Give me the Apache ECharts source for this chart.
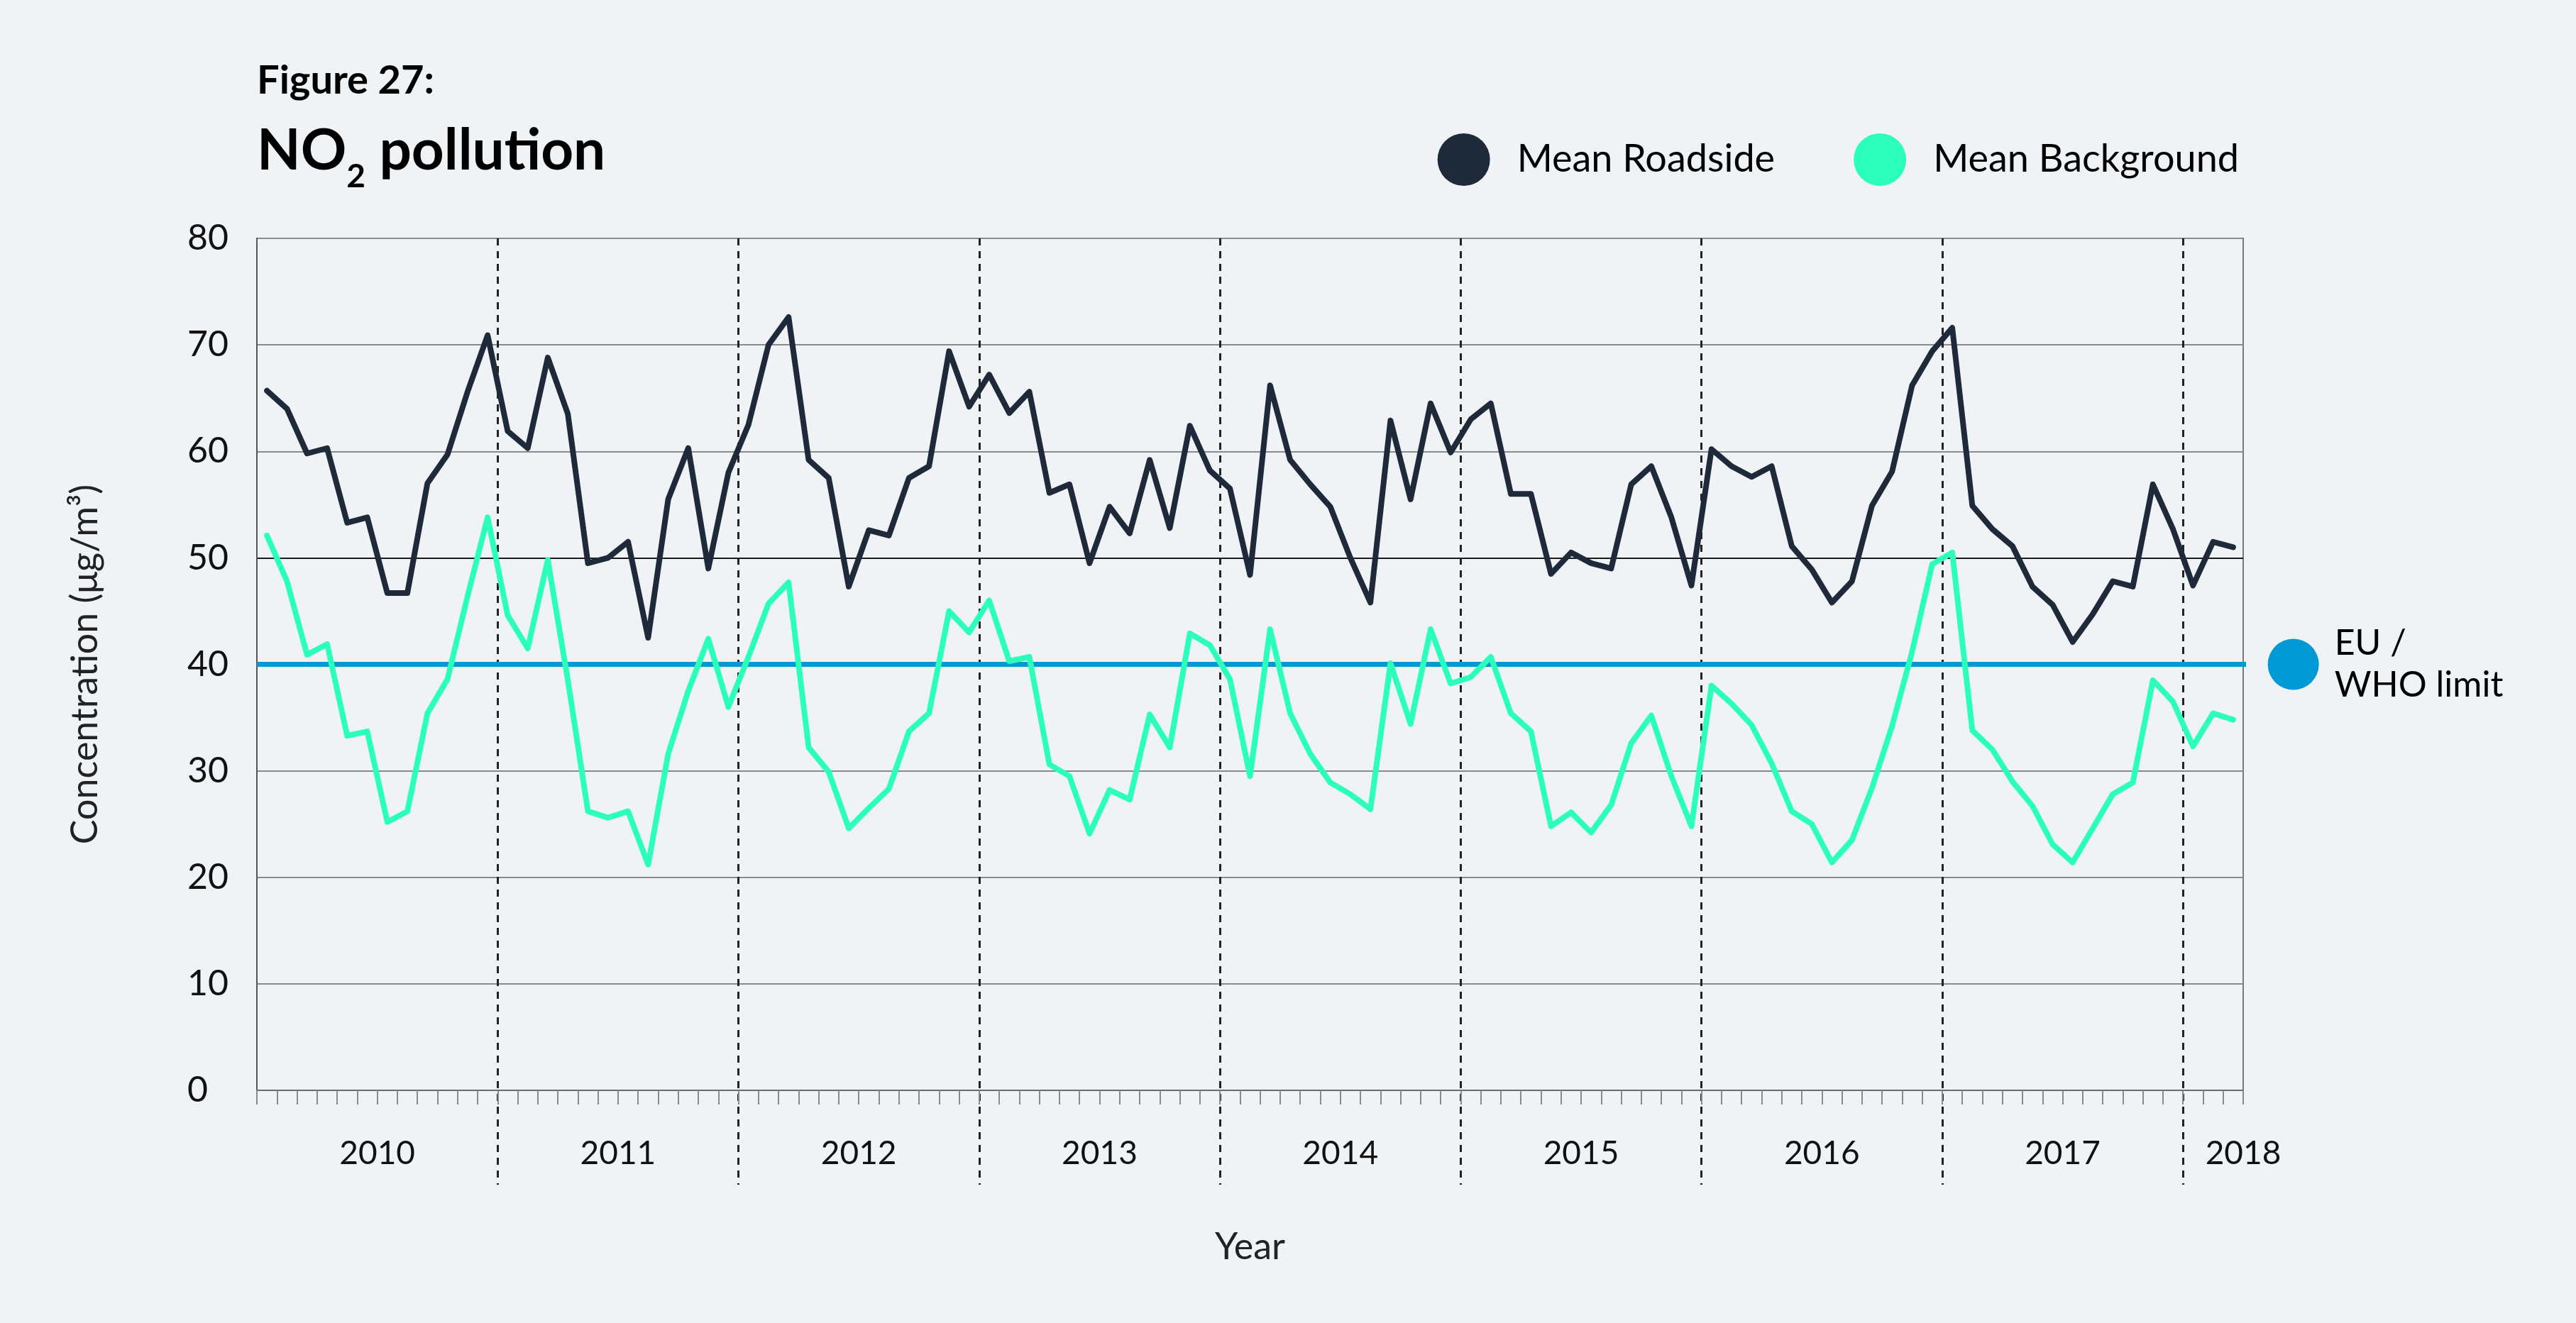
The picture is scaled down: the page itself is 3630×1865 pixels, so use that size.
<!DOCTYPE html>
<html>
<head>
<meta charset="utf-8">
<script src="https://cdn.jsdelivr.net/npm/echarts@6/dist/echarts.min.js"></script>
<style>
html,body{margin:0;padding:0;background:#eff3f6;}
#chart{width:3630px;height:1865px;}
</style>
</head>
<body>
<div id="chart"></div>
<script>
// ---------- data ----------
const years = ['2010','2011','2012','2013','2014','2015','2016','2017','2018'];
const roadside = [
  65.7, 64.0, 59.8, 60.3, 53.3, 53.8, 46.7, 46.7, 57.0, 59.7, 65.6, 70.9,
  61.9, 60.3, 68.8, 63.5, 49.5, 50.0, 51.5, 42.5, 55.5, 60.3, 49.0, 58.0,
  62.5, 70.0, 72.6, 59.2, 57.5, 47.3, 52.6, 52.1, 57.5, 58.6, 69.4, 64.2,
  67.2, 63.6, 65.6, 56.1, 56.9, 49.5, 54.8, 52.3, 59.2, 52.8, 62.4, 58.2,
  56.5, 48.4, 66.2, 59.2, 56.9, 54.8, 50.0, 45.8, 62.9, 55.5, 64.5, 59.9,
  63.0, 64.5, 56.0, 56.0, 48.5, 50.5, 49.5, 49.0, 56.9, 58.6, 53.8, 47.4,
  60.2, 58.6, 57.6, 58.6, 51.1, 48.9, 45.8, 47.8, 54.9, 58.1, 66.2, 69.4,
  71.6, 54.9, 52.7, 51.1, 47.3, 45.6, 42.1, 44.7, 47.8, 47.3, 56.9, 52.7,
  47.4, 51.5, 51.0
];
const background = [
  52.1, 47.8, 40.9, 41.9, 33.3, 33.7, 25.2, 26.2, 35.4, 38.6, 46.4, 53.8,
  44.6, 41.5, 49.8, 38.5, 26.2, 25.6, 26.2, 21.2, 31.6, 37.5, 42.4, 36.0,
  40.7, 45.7, 47.7, 32.2, 29.9, 24.6, 26.5, 28.3, 33.7, 35.4, 45.0, 43.0,
  46.0, 40.3, 40.7, 30.6, 29.5, 24.1, 28.2, 27.3, 35.3, 32.2, 42.9, 41.8,
  38.6, 29.5, 43.3, 35.4, 31.6, 28.9, 27.8, 26.4, 40.1, 34.4, 43.3, 38.2,
  38.8, 40.7, 35.4, 33.7, 24.8, 26.1, 24.2, 26.8, 32.6, 35.2, 29.5, 24.8,
  38.0, 36.3, 34.3, 30.7, 26.2, 25.0, 21.4, 23.5, 28.4, 34.2, 41.2, 49.4,
  50.5, 33.8, 32.0, 29.0, 26.7, 23.1, 21.4, 24.6, 27.8, 28.9, 38.5, 36.5,
  32.3, 35.4, 34.8
];
const limitValue = 40;
const seriesNames = ['Mean Roadside', 'Mean Background'];
const limitLabel = 'EU /\nWHO limit';
const yAxisName = 'Concentration (\u03bcg/m\u00b3)';
const xAxisName = 'Year';

// month categories derived from years
const months = roadside.map((_, i) => years[Math.floor(i / 12)] + '-' + String(i % 12 + 1).padStart(2, '0'));
const N = months.length;

// ---------- layout / style ----------
const FONT = 'Lato';
const C_DARK = '#1e2a3a';
const C_GREEN = '#2cfebb';
const C_BLUE = '#0099d5';
const GRID = {left: 362, right: 469, top: 336, bottom: 328};
const limitEnd = N + 2.5; // where the limit marker sits, in month units

const chart = echarts.init(document.getElementById('chart'), null, {renderer: 'canvas'});
chart.setOption({
  backgroundColor: '#eff3f6',
  animation: false,
  title: [
    {
      text: 'Figure 27:', left: 362, top: 86, padding: 0,
      textStyle: {fontFamily: FONT, fontWeight: 'bold', fontSize: 56, color: '#000'}
    },
    {
      text: '{a|NO}{s|2}{a| pollution}', left: 362, top: 154, padding: 0,
      textStyle: {
        rich: {
          a: {fontFamily: FONT, fontWeight: 'bold', fontSize: 80, lineHeight: 118, color: '#000'},
          s: {fontFamily: FONT, fontWeight: 'bold', fontSize: 46, lineHeight: 46, verticalAlign: 'bottom', color: '#000'}
        }
      }
    }
  ],
  legend: {
    data: seriesNames,
    right: 470, top: 183,
    icon: 'circle', itemWidth: 74, itemHeight: 74, itemGap: 111,
    itemStyle: {borderWidth: 0},
    textStyle: {fontFamily: FONT, fontSize: 54, color: '#000', padding: [0, 0, 0, 33]}
  },
  grid: [
    Object.assign({show: true, borderColor: '#7a7a7a', borderWidth: 2, backgroundColor: 'transparent'}, GRID),
    {left: GRID.left, right: GRID.right, top: GRID.top, bottom: 195}
  ],
  xAxis: [
    {
      type: 'category', gridIndex: 0, data: months, boundaryGap: true, position: 'bottom',
      axisLine: {show: true, lineStyle: {color: '#6a6a6a', width: 2}},
      axisTick: {show: true, interval: 0, length: 20, lineStyle: {color: '#8a8a8a', width: 2}},
      axisLabel: {show: false},
      splitLine: {show: false}
    },
    {
      type: 'value', gridIndex: 1, min: 0, max: N, interval: 12, position: 'bottom',
      axisLine: {show: false}, axisTick: {show: false}, axisLabel: {show: false},
      splitLine: {show: true, showMinLine: false, showMaxLine: false,
        lineStyle: {color: '#222', width: 3, type: [10, 8]}}
    },
    {
      type: 'value', gridIndex: 0, min: 0, max: N, interval: 6, position: 'bottom',
      axisLine: {show: false}, axisTick: {show: false}, splitLine: {show: false},
      axisLabel: {
        show: true, margin: 66, showMaxLabel: true, showMinLabel: false,
        fontFamily: FONT, fontSize: 46, color: '#111',
        formatter: function (v) {
          if (v === N) return years[years.length - 1];
          if (v % 12 === 6) return years[Math.floor(v / 12)];
          return '';
        }
      },
      name: xAxisName, nameLocation: 'middle', nameGap: 195,
      nameTextStyle: {fontFamily: FONT, fontSize: 52, color: '#222'}
    }
  ],
  yAxis: [
    {
      type: 'value', gridIndex: 0, min: 0, max: 80, interval: 10,
      axisLine: {show: true, lineStyle: {color: '#555', width: 2}},
      axisTick: {show: false},
      axisLabel: {fontFamily: FONT, fontSize: 50, color: '#111', margin: 98, align: 'left'},
      splitLine: {show: true, lineStyle: {
        color: ['#8a8a8a','#8a8a8a','#8a8a8a','#8a8a8a','#8a8a8a','#1a1a1a','#8a8a8a','#8a8a8a','#8a8a8a'],
        width: 2}},
      name: yAxisName, nameLocation: 'middle', nameRotate: 90, nameGap: 216,
      nameTextStyle: {fontFamily: FONT, fontSize: 52, color: '#222'}
    },
    {type: 'value', gridIndex: 1, min: 0, max: 80, show: false}
  ],
  series: [
    {
      name: 'EU / WHO limit', type: 'line', xAxisIndex: 2, yAxisIndex: 0, clip: false, z: 2,
      symbol: 'none', showSymbol: true, silent: true,
      lineStyle: {color: C_BLUE, width: 7},
      itemStyle: {color: C_BLUE, borderWidth: 0},
      data: [
        [0, limitValue],
        {
          value: [limitEnd, limitValue], symbol: 'circle', symbolSize: 72,
          label: {show: true, position: 'right', distance: 22, formatter: limitLabel,
            fontFamily: FONT, fontSize: 50, lineHeight: 59, color: '#000'}
        }
      ]
    },
    {
      name: seriesNames[1], type: 'line', xAxisIndex: 0, yAxisIndex: 0, z: 3,
      data: background, symbol: 'none', smooth: false,
      itemStyle: {color: C_GREEN, borderWidth: 0},
      lineStyle: {color: C_GREEN, width: 8, cap: 'round', join: 'round'}
    },
    {
      name: seriesNames[0], type: 'line', xAxisIndex: 0, yAxisIndex: 0, z: 4,
      data: roadside, symbol: 'none', smooth: false,
      itemStyle: {color: C_DARK, borderWidth: 0},
      lineStyle: {color: C_DARK, width: 8, cap: 'round', join: 'round'}
    }
  ]
});
</script>
</body>
</html>
